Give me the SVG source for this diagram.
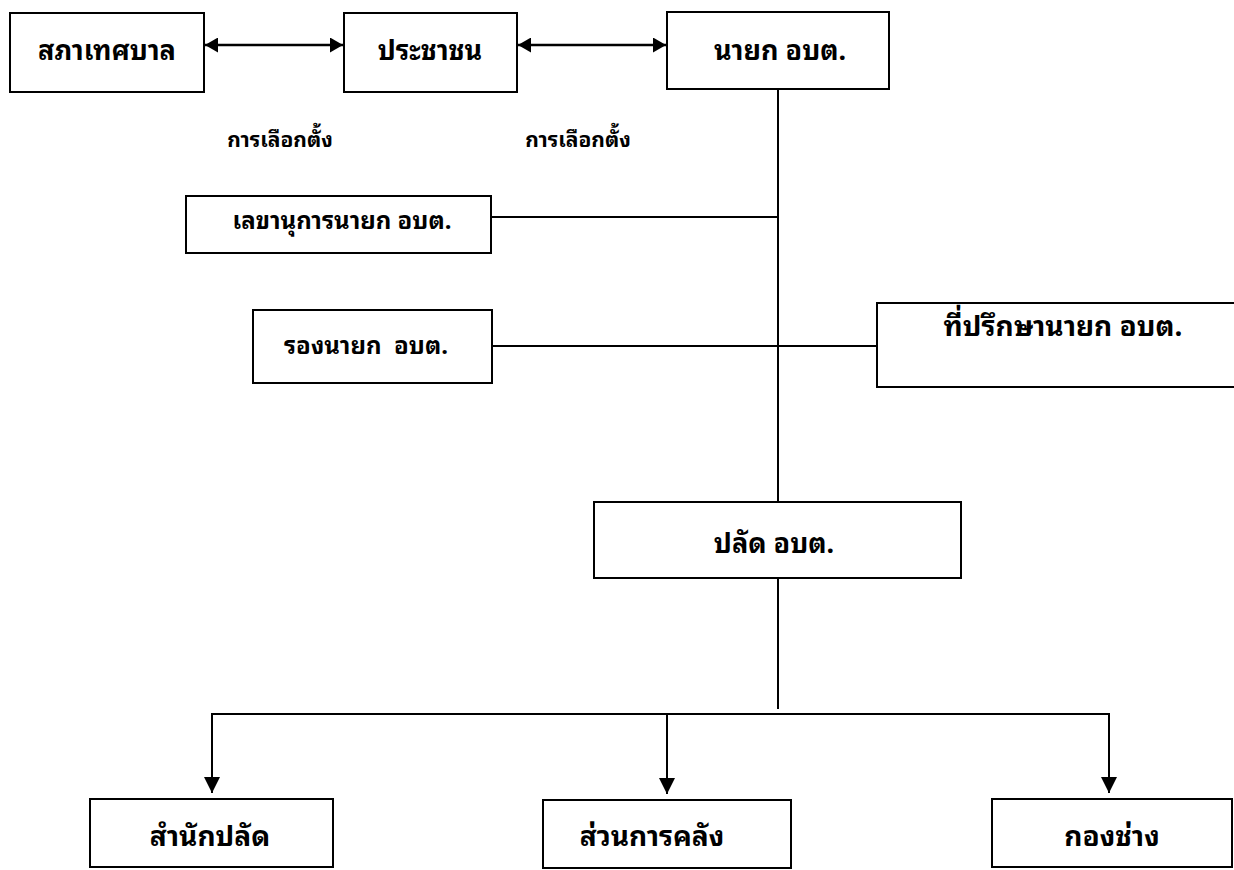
<svg xmlns="http://www.w3.org/2000/svg" width="1234" height="870" viewBox="0 0 1234 870">
<style>
.box{fill:#fff;stroke:#000;stroke-width:2}
.ln{fill:none;stroke:#000;stroke-width:2}
.lt{stroke-width:2.5}
text{font-family:"Noto Sans Thai Looped","Noto Sans Thai",Loma,sans-serif;fill:#000;text-anchor:middle;font-weight:bold}
.t{font-size:27px}
.t2{font-size:28px}
.lbl{font-size:21px}
.s{font-size:24px}
.b{font-size:28px}
</style>
<defs>
<marker id="ah" viewBox="0 0 13 15" refX="13" refY="7.5" markerWidth="13" markerHeight="15" markerUnits="userSpaceOnUse" orient="auto-start-reverse"><path d="M0,0 L13,7.5 L0,15 z" fill="#000"/></marker>
<marker id="ad" viewBox="0 0 16 16" refX="16" refY="8" markerWidth="16" markerHeight="16" markerUnits="userSpaceOnUse" orient="auto"><path d="M0,0 L16,8 L0,16 z" fill="#000"/></marker>
</defs>
<rect width="1234" height="870" fill="#fff"/>
<g id="connectors">
<line class="ln lt" x1="205" y1="45" x2="343" y2="45" marker-start="url(#ah)" marker-end="url(#ah)"/>
<line class="ln lt" x1="518" y1="45" x2="666" y2="45" marker-start="url(#ah)" marker-end="url(#ah)"/>
<line class="ln" x1="778" y1="89" x2="778" y2="502"/>
<line class="ln" x1="491" y1="217" x2="778" y2="217"/>
<line class="ln" x1="492" y1="346" x2="877" y2="346"/>
<line class="ln" x1="778" y1="578" x2="778" y2="709"/>
<line class="ln" x1="211" y1="714" x2="1110" y2="714"/>
<line class="ln" x1="212" y1="713" x2="212" y2="793" marker-end="url(#ad)"/>
<line class="ln" x1="667" y1="713" x2="667" y2="794" marker-end="url(#ad)"/>
<line class="ln" x1="1109" y1="713" x2="1109" y2="793" marker-end="url(#ad)"/>
</g>
<g id="n-sapha"><rect class="box" x="10" y="13" width="194" height="79"/><text class="t" x="107" y="60">สภาเทศบาล</text></g>
<g id="n-prachachon"><rect class="box" x="344" y="13" width="173" height="79"/><text class="t" x="430" y="60">ประชาชน</text></g>
<g id="n-nayok"><rect class="box" x="667" y="12" width="222" height="77"/><text class="t" x="780" y="60">นายก อบต.</text></g>
<g id="l-election1"><text class="lbl" x="280" y="147">การเลือกตั้ง</text></g>
<g id="l-election2"><text class="lbl" x="578" y="147">การเลือกตั้ง</text></g>
<g id="n-secretary"><rect class="box" x="186" y="196" width="305" height="57"/><text class="s" x="342" y="229">เลขานุการนายก อบต.</text></g>
<g id="n-deputy"><rect class="box" x="253" y="310" width="239" height="73"/><text class="s" x="366" y="354">รองนายก&#160; อบต.</text></g>
<g id="n-advisor"><rect class="box" x="877" y="303" width="370" height="84"/><text class="t2" x="1063" y="336">ที่ปรึกษานายก อบต.</text></g>
<g id="n-palad"><rect class="box" x="594" y="502" width="367" height="76"/><text class="t" x="774" y="553">ปลัด อบต.</text></g>
<g id="n-office"><rect class="box" x="90" y="799" width="243" height="68"/><text class="b" x="210" y="846">สำนักปลัด</text></g>
<g id="n-finance"><rect class="box" x="543" y="800" width="248" height="68"/><text class="b" x="652" y="846">ส่วนการคลัง</text></g>
<g id="n-works"><rect class="box" x="992" y="799" width="240" height="68"/><text class="b" x="1112" y="846">กองช่าง</text></g>
</svg>
